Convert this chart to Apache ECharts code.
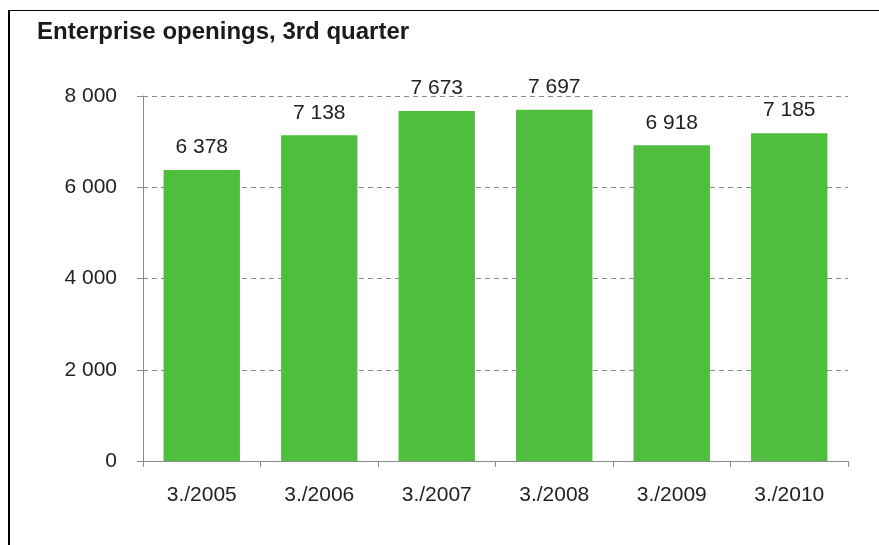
<!DOCTYPE html>
<html>
<head>
<meta charset="utf-8">
<script src="https://cdn.jsdelivr.net/npm/echarts@6/dist/echarts.min.js"></script>
<style>
    html, body { margin: 0; padding: 0; background: #fff; }
    #chart { width: 879px; height: 545px; }
    .frame {
        position: absolute; left: 8px; top: 10px; right: 0; bottom: 0;
        border-left: 2px solid #000; border-top: 1px solid #000;
        pointer-events: none;
    }
</style>
</head>
<body>
<div id="chart"></div>
<div class="frame"></div>
<script>
// 3rd quarter enterprise openings
var categories = ['3./2005', '3./2006', '3./2007', '3./2008', '3./2009', '3./2010'];
var openings = [6378, 7138, 7673, 7697, 6918, 7185];
var yTicks = [0, 2000, 4000, 6000, 8000];

function spaced(v) {
    return String(v).replace(/\B(?=(\d{3})+(?!\d))/g, ' ');
}

(function() {
    var myChart = echarts.init(document.getElementById('chart'));
    var font = '"Liberation Sans", Arial, sans-serif';

    var option = {
        animation: false,
        title: {
            text: 'Enterprise openings, 3rd quarter',
            left: 32,
            top: 15,
            textStyle: {
                fontFamily: font,
                fontSize: 24,
                fontWeight: 'bold',
                color: '#1a1a1a'
            }
        },
        grid: {
            left: 143,
            right: 31,
            top: 96,
            bottom: 84
        },
        xAxis: {
            type: 'category',
            data: categories,
            axisLine: { lineStyle: { color: '#8a8a8a', width: 1 } },
            axisTick: { show: true, length: 6, lineStyle: { color: '#8a8a8a' } },
            axisLabel: {
                margin: 24,
                fontFamily: font,
                fontSize: 21,
                color: '#222'
            }
        },
        yAxis: {
            type: 'value',
            min: yTicks[0],
            max: yTicks[yTicks.length - 1],
            interval: 2000,
            axisLine: { show: true, lineStyle: { color: '#8a8a8a', width: 1 } },
            axisTick: { show: true, length: 6, lineStyle: { color: '#8a8a8a' } },
            splitLine: {
                lineStyle: { color: '#8a8a8a', type: [5, 4], width: 1 }
            },
            axisLabel: {
                margin: 26,
                fontFamily: font,
                fontSize: 21,
                color: '#222',
                formatter: function(v) { return spaced(v); }
            }
        },
        series: [{
            type: 'bar',
            data: openings,
            barCategoryGap: '35%',
            itemStyle: { color: '#4fbe3f' },
            label: {
                show: true,
                position: 'top',
                distance: 12,
                fontFamily: font,
                fontSize: 21,
                color: '#222',
                formatter: function(p) { return spaced(p.value); }
            }
        }]
    };

    myChart.setOption(option);

    window.addEventListener('resize', function() {
        myChart.resize();
    })
})()
</script>
</body>
</html>
